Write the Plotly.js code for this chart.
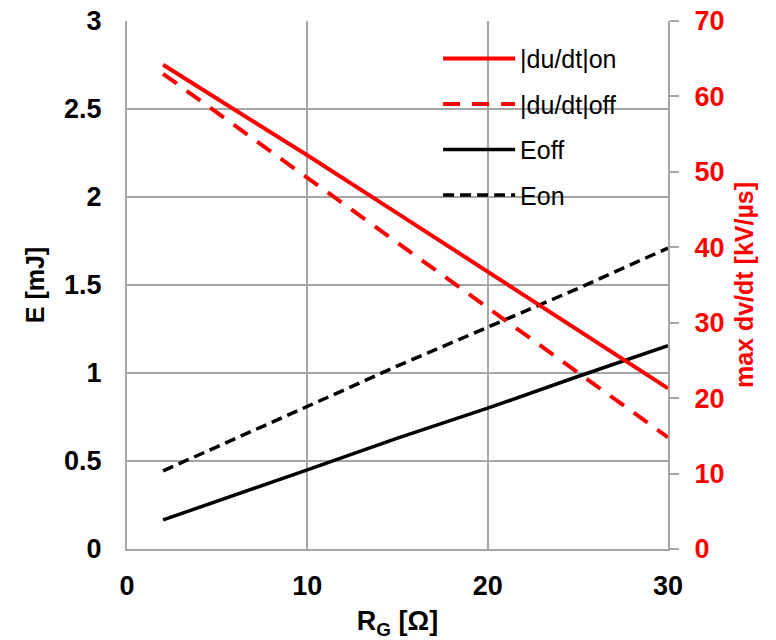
<!DOCTYPE html>
<html>
<head>
<meta charset="utf-8">
<script src="https://cdn.plot.ly/plotly-3.0.1.min.js"></script>
<style>body{margin:0;background:#fff}#chart{width:776px;height:640px}</style>
</head>
<body>
<div id="chart"></div>
<script>
// Data
var rg = [2, 5, 10, 15, 20, 25, 30];
var dudtOn  = [64.2, 59.7, 52.2, 44.5, 36.8, 29.0, 21.3];
var dudtOff = [63.0, 57.8, 49.2, 40.6, 32.0, 23.4, 14.8];
var eOff = [0.165, 0.27, 0.45, 0.63, 0.80, 0.98, 1.155];
var eOn  = [0.444, 0.58, 0.81, 1.04, 1.26, 1.48, 1.71];
var names = ['|du/dt|on', '|du/dt|off', 'Eoff', 'Eon'];

var red = '#ff0000';
var grid = '#a6a6a6';
var font = 'Liberation Sans, Arial, sans-serif';

var traces = [
  {x: rg, y: dudtOn, name: names[0], yaxis: 'y2', mode: 'lines', legendgroup: 'a',
   line: {color: red, width: 4}},
  {x: rg, y: dudtOff, name: names[1], yaxis: 'y2', mode: 'lines', legendgroup: 'b',
   line: {color: red, width: 4, dash: '17px,12px'}},
  {x: rg, y: eOff, name: names[2], mode: 'lines', legendgroup: 'c',
   line: {color: '#000', width: 3.5}},
  {x: rg, y: eOn, name: names[3], mode: 'lines', legendgroup: 'd',
   line: {color: '#000', width: 3.5, dash: '11px,6px'}}
];

var layout = {
  width: 776, height: 640,
  margin: {l: 127, r: 108, t: 21, b: 91},
  paper_bgcolor: '#fff', plot_bgcolor: '#fff',
  showlegend: true,
  legend: {x: 0.575, y: 0.972, xanchor: 'left', yanchor: 'top',
    bgcolor: 'rgba(0,0,0,0)', itemwidth: 72, tracegroupgap: 10,
    font: {family: font, size: 25, color: '#000'}},
  xaxis: {range: [0, 30], tickvals: [0, 10, 20, 30], showgrid: true, gridcolor: grid, gridwidth: 2,
    zeroline: false, showline: true, linecolor: grid, linewidth: 2, ticks: '',
    ticklabelstandoff: 12,
    tickfont: {family: font, size: 27, color: '#000', weight: 'bold'},
    title: {text: 'R<sub>G</sub> [Ω]', standoff: 14, font: {family: font, size: 27, color: '#000', weight: 'bold'}}},
  yaxis: {range: [0, 3], tickvals: [0, 0.5, 1, 1.5, 2, 2.5, 3], ticktext: ['0','0.5','1','1.5','2','2.5','3'],
    showgrid: true, gridcolor: grid, gridwidth: 2,
    zeroline: false, showline: true, linecolor: grid, linewidth: 2, ticks: '',
    ticklabelstandoff: 18,
    tickfont: {family: font, size: 27, color: '#000', weight: 'bold'},
    title: {text: 'E [mJ]', standoff: 12, font: {family: font, size: 25, color: '#000', weight: 'bold'}}},
  yaxis2: {range: [0, 70], tickvals: [0,10,20,30,40,50,60,70], overlaying: 'y', side: 'right',
    showgrid: false, zeroline: false, showline: true, linecolor: grid, linewidth: 2,
    ticks: 'outside', ticklen: 9, tickwidth: 2, tickcolor: grid, ticklabelstandoff: 10,
    tickfont: {family: font, size: 27, color: red, weight: 'bold'},
    title: {text: 'max dv/dt [kV/µs]', standoff: 12, font: {family: font, size: 25, color: red, weight: 'bold'}}}
};

Plotly.newPlot('chart', traces, layout, {displayModeBar: false, staticPlot: true});
</script>
</body>
</html>
